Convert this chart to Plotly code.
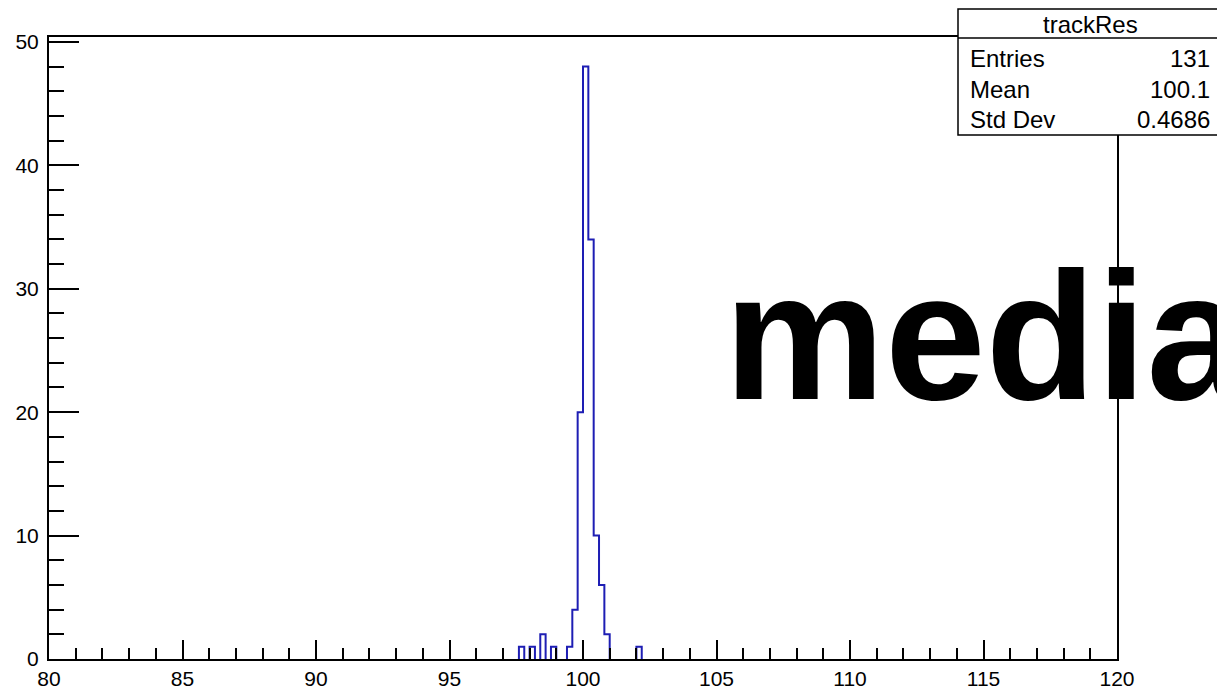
import plotly.graph_objects as go

# ---------------- data ----------------
x_min, x_max, bin_width = 80.0, 120.0, 0.2
bin_low_edges = [97.6, 98.0, 98.4, 98.8, 99.4, 99.6, 99.8, 100.0, 100.2, 100.4, 100.6, 100.8, 102.0]
bin_counts =    [1,    1,    2,    1,    1,    4,    20,   48,    34,    10,    6,     2,     1]
x_tick_vals = [80, 85, 90, 95, 100, 105, 110, 115, 120]
y_tick_vals = [0, 10, 20, 30, 40, 50]
stat_title = "trackRes"
stat_labels = ["Entries", "Mean", "Std Dev"]
stat_values = ["131", "100.1", "0.4686"]
overlay_text = "media"

# ---------------- build histogram outline (runs of filled bins) ----------------
n_bins = int(round((x_max - x_min) / bin_width))
counts = [0] * n_bins
for lo, c in zip(bin_low_edges, bin_counts):
    counts[int(round((lo - x_min) / bin_width))] = c

step_x, step_y = [], []
i = 0
while i < n_bins:
    if counts[i] == 0:
        i += 1
        continue
    step_x.append(x_min + i * bin_width)
    step_y.append(0)
    while i < n_bins and counts[i] > 0:
        lo = x_min + i * bin_width
        step_x += [lo, lo + bin_width]
        step_y += [counts[i], counts[i]]
        i += 1
    step_x += [x_min + i * bin_width, None]
    step_y += [0, None]

FONT = "Liberation Sans, Arial, Helvetica, sans-serif"
OFF = 8  # page body margin
SW, SH = 1225, 691
W, H = SW - OFF, SH - OFF
# plot frame in screen pixels
L, R, T, B = 49, 1117, 37, 659


def px(x):
    return (x - L) / (R - L)


def py(y):
    return (B - y) / (B - T)


fig = go.Figure()
fig.add_trace(go.Scatter(
    x=step_x, y=step_y, mode="lines",
    line=dict(color="#1e1eb4", width=2), hoverinfo="skip", showlegend=False,
    cliponaxis=False,
))

axis_common = dict(
    showgrid=False, zeroline=False, showline=True, mirror=True, automargin=False,
    linecolor="black", linewidth=2, ticks="inside", tickcolor="black",
    tickwidth=1.5, tickfont=dict(family=FONT, size=21, color="black"),
)

fig.update_xaxes(
    range=[x_min, x_max], tickvals=x_tick_vals, ticklen=19,
    minor=dict(dtick=1, tick0=80, ticks="inside", ticklen=11, tickcolor="black", tickwidth=1.5),
    **axis_common,
)
fig.update_yaxes(
    range=[0, 1.05 * max(bin_counts)], tickvals=y_tick_vals, ticklen=30, ticklabelstandoff=4,
    minor=dict(dtick=2, tick0=0, ticks="inside", ticklen=15, tickcolor="black", tickwidth=1.5),
    **axis_common,
)

shapes = [
    dict(type="rect", xref="paper", yref="paper", x0=px(958), x1=px(1222), y0=py(135), y1=py(9),
         fillcolor="white", line=dict(color="black", width=1.5), layer="above"),
    dict(type="line", xref="paper", yref="paper", x0=px(958), x1=px(1222), y0=py(38), y1=py(38),
         line=dict(color="black", width=1.5), layer="above"),
]

annotations = [
    dict(text=stat_title, x=px(1090), y=py(24), xref="paper", yref="paper",
         xanchor="center", yanchor="middle", showarrow=False,
         font=dict(family=FONT, size=24, color="black")),
]
for k, (lab, val) in enumerate(zip(stat_labels, stat_values)):
    yy = py(59 + 30 * k)
    annotations.append(dict(text=lab, x=px(968), y=yy, xref="paper", yref="paper",
                            xanchor="left", yanchor="middle", showarrow=False,
                            font=dict(family=FONT, size=24, color="black")))
    annotations.append(dict(text=val, x=px(1212), y=yy, xref="paper", yref="paper",
                            xanchor="right", yanchor="middle", showarrow=False,
                            font=dict(family=FONT, size=24, color="black")))

annotations.append(dict(text="<b>" + overlay_text + "</b>", x=px(722), y=py(336),
                        xref="paper", yref="paper", xanchor="left", yanchor="middle",
                        showarrow=False, font=dict(family=FONT, size=181, color="black")))

fig.update_layout(
    width=W, height=H,
    margin=dict(l=L - OFF, r=SW - R, t=T - OFF, b=SH - B),
    paper_bgcolor="white", plot_bgcolor="white",
    shapes=shapes, annotations=annotations, showlegend=False,
)

fig.write_html("out.html")
